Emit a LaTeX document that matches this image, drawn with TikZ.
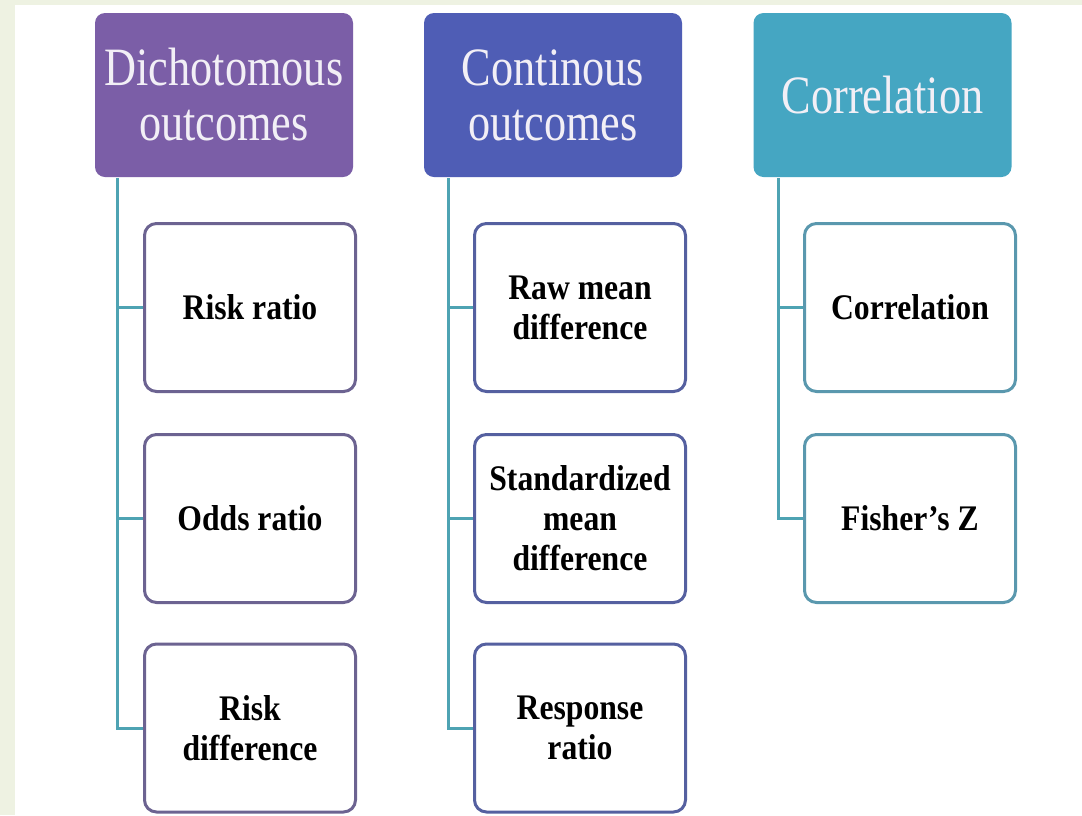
\documentclass[tikz,border=0pt]{standalone}
\usepackage{fontspec}
\setmainfont{Liberation Serif}[FakeStretch=0.88]
\newfontfamily\headfont{Liberation Serif}[FakeStretch=0.82]

\definecolor{pagestrip}{HTML}{EEF2E2}
\definecolor{dichofill}{HTML}{7B5EA7}
\definecolor{contfill}{HTML}{4F5DB5}
\definecolor{corrfill}{HTML}{45A6C2}
\definecolor{dichoedge}{HTML}{6C6391}
\definecolor{contedge}{HTML}{5560A0}
\definecolor{corredge}{HTML}{5A98AE}
\definecolor{linkcol}{HTML}{4EA3B3}
\definecolor{headtext}{HTML}{F2EFF6}

\begin{document}
\begin{tikzpicture}[x=1pt,y=1pt,
  head/.style={rectangle, rounded corners=10pt, minimum width=258pt, minimum height=164pt,
    inner sep=0pt, align=center, text=headtext, font=\headfont\fontsize{54}{55}\selectfont},
  item/.style={rectangle, draw, fill=white, rounded corners=12pt, line width=3pt,
    minimum width=211pt, minimum height=168pt, inner sep=0pt, align=center,
    font=\fontsize{36}{40}\selectfont\bfseries},
  link/.style={draw=linkcol, line width=3pt}]

% page
\fill[pagestrip] (0,0) rectangle (1082,-815);
\fill[white] (15,-5) rectangle (1082,-815);
\useasboundingbox (0,0) rectangle (1082,-815);

% headers
\node[head, fill=dichofill] (dicho) at (224,-95) {Dichotomous\\outcomes};
\node[head, fill=contfill] (cont) at (553,-95) {Continous\\outcomes};
\node[head, fill=corrfill] (corr) at (882.5,-95) {Correlation};

% items
\node[item, draw=dichoedge] (rr) at (250,-307.5) {Risk ratio};
\node[item, draw=dichoedge] (or) at (250,-518.5) {Odds ratio};
\node[item, draw=dichoedge] (rd) at (250,-728) {Risk\\difference};

\node[item, draw=contedge] (rmd) at (580,-307.5) {Raw mean\\difference};
\node[item, draw=contedge] (smd) at (580,-518.5) {Standardized\\mean\\difference};
\node[item, draw=contedge] (resp) at (580,-728) {Response\\ratio};

\node[item, draw=corredge] (cor) at (910,-307.5) {Correlation};
\node[item, draw=corredge] (fz) at (910,-518.5) {Fisher's Z};

% connectors
\coordinate (t1) at (117,-178);
\coordinate (t2) at (448,-178);
\coordinate (t3) at (778,-178);

\draw[link] (t1) |- (rr.west);
\draw[link] (t1) |- (or.west);
\draw[link] (t1) |- (rd.west);

\draw[link] (t2) |- (rmd.west);
\draw[link] (t2) |- (smd.west);
\draw[link] (t2) |- (resp.west);

\draw[link] (t3) |- (cor.west);
\draw[link] (t3) |- (fz.west);
\end{tikzpicture}
\end{document}
